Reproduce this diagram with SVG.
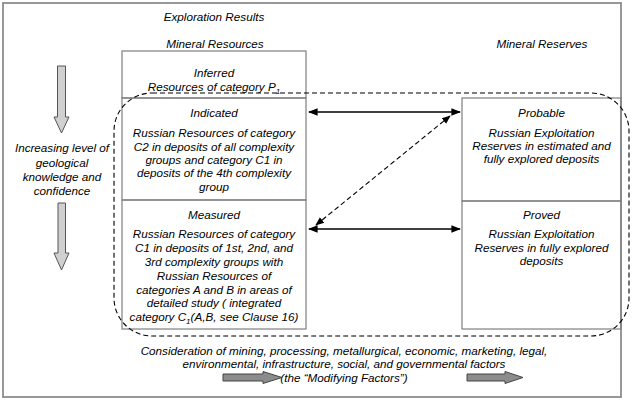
<svg xmlns="http://www.w3.org/2000/svg" width="632" height="401" viewBox="0 0 632 401">
<defs>
<style>
text{font-family:"Liberation Sans",Arial,sans-serif;font-style:italic;font-size:11.7px;fill:#000;text-anchor:middle}
.box{fill:none;stroke:#7f7f7f;stroke-width:1.2}
.frame{fill:#fff;stroke:#7f7f7f;stroke-width:1.6}
.varrow{fill:#d0d0d0;stroke:#555;stroke-width:1}
.harrow{fill:#8c8c8c;stroke:#444;stroke-width:1}
.solid{stroke:#000;stroke-width:1.6;fill:none}
.dash{stroke:#000;stroke-width:1.1;fill:none;stroke-dasharray:5 3}
.sub{font-size:8px}
</style>
<marker id="ah" viewBox="0 0 10 10" refX="9" refY="5" markerWidth="6" markerHeight="6" orient="auto-start-reverse" markerUnits="strokeWidth">
<path d="M0,1 L10,5 L0,9 Z" fill="#000"/>
</marker>
<marker id="ahd" viewBox="0 0 10 10" refX="9" refY="5" markerWidth="8" markerHeight="8" orient="auto-start-reverse" markerUnits="strokeWidth">
<path d="M0,1 L10,5 L0,9 Z" fill="#000"/>
</marker>
</defs>
<rect class="frame" x="3" y="3" width="618" height="394"/>
<g id="header">
<text x="214" y="21">Exploration Results</text>
<text x="215" y="48">Mineral Resources</text>
<text x="542" y="48">Mineral Reserves</text>
</g>
<g id="inferred">
<rect class="box" x="122" y="51" width="184" height="47"/>
<text x="214" y="77">Inferred</text>
<text x="214" y="91">Resources of category P<tspan class="sub" dy="2.5">1</tspan></text>
</g>
<g id="indicated">
<rect class="box" x="122" y="98" width="184" height="102"/>
<text x="214" y="117">Indicated</text>
<text x="214" y="137">Russian Resources of category</text>
<text x="214" y="151">C2 in deposits of all complexity</text>
<text x="214" y="164">groups and category C1 in</text>
<text x="214" y="177">deposits of the 4th complexity</text>
<text x="214" y="191">group</text>
</g>
<g id="measured">
<rect class="box" x="122" y="200" width="184" height="129"/>
<text x="214" y="219">Measured</text>
<text x="214" y="238">Russian Resources of category</text>
<text x="214" y="252">C1 in deposits of 1st, 2nd, and</text>
<text x="214" y="266">3rd complexity groups with</text>
<text x="214" y="280">Russian Resources of</text>
<text x="214" y="294">categories A and B in areas of</text>
<text x="214" y="307">detailed study ( integrated</text>
<text x="214" y="321">category C<tspan class="sub" dy="2.5">1</tspan><tspan dy="-2.5">(A,B, see Clause 16)</tspan></text>
</g>
<g id="probable">
<rect class="box" x="462" y="98" width="159" height="103"/>
<text x="541.5" y="117">Probable</text>
<text x="541.5" y="137">Russian Exploitation</text>
<text x="541.5" y="150">Reserves in estimated and</text>
<text x="541.5" y="163">fully explored deposits</text>
</g>
<g id="proved">
<rect class="box" x="462" y="201" width="159" height="128"/>
<text x="541.5" y="219">Proved</text>
<text x="541.5" y="238">Russian Exploitation</text>
<text x="541.5" y="252">Reserves in fully explored</text>
<text x="541.5" y="265">deposits</text>
</g>
<g id="confidence">
<path class="varrow" d="M57.5,66 H65.5 V117 H69 L61.5,133 L54,117 H57.5 Z"/>
<text x="62" y="152">Increasing level of</text>
<text x="62" y="167">geological</text>
<text x="62" y="181">knowledge and</text>
<text x="62" y="195">confidence</text>
<path class="varrow" d="M58,203 H65.5 V253 H69 L61.5,270 L54,253 H58 Z"/>
</g>
<g id="modifying-factors">
<text x="344" y="355">Consideration of mining, processing, metallurgical, economic, marketing, legal,</text>
<text x="344" y="368">environmental, infrastructure, social, and governmental factors</text>
<text x="344" y="382">(the “Modifying Factors”)</text>
<path class="harrow" d="M223,374 H263 V371.5 L282,377.5 L263,383.5 V381 H223 Z"/>
<path class="harrow" d="M467,374 H505 V371.5 L523,377.5 L505,383.5 V381 H467 Z"/>
</g>
<g id="connectors">
<rect class="dash" x="114" y="93" width="515" height="243" rx="38" ry="38"/>
<line class="solid" x1="309" y1="112" x2="460" y2="112" marker-start="url(#ah)" marker-end="url(#ah)"/>
<line class="solid" x1="309" y1="229" x2="460" y2="229" marker-start="url(#ah)" marker-end="url(#ah)"/>
<line class="dash" x1="316" y1="225" x2="450" y2="116" marker-start="url(#ahd)" marker-end="url(#ahd)"/>
</g>
</svg>
